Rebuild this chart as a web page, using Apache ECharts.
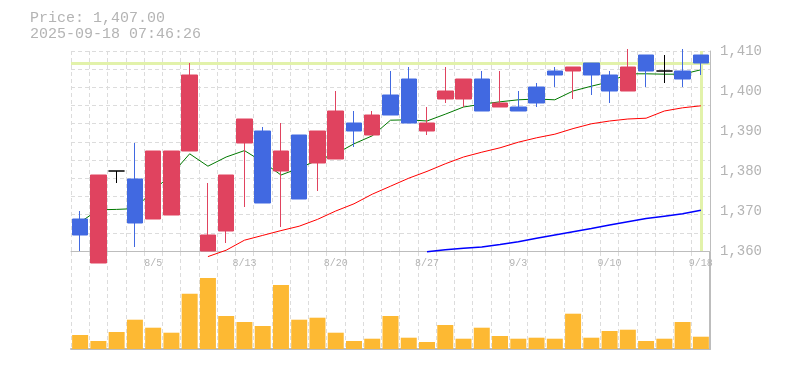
<!DOCTYPE html>
<html>
<head>
<meta charset="utf-8">
<script src="https://cdn.jsdelivr.net/npm/echarts@6/dist/echarts.min.js"></script>
<style>html,body{margin:0;padding:0;background:#fff}#c{width:785px;height:370px}</style>
</head>
<body>
<div id="c"></div>
<script>
const dates = ['7/30','7/31','8/1','8/4','8/5','8/6','8/7','8/8','8/12','8/13','8/14','8/15','8/18','8/19','8/20','8/21','8/22','8/25','8/26','8/27','8/28','8/29','9/1','9/2','9/3','9/4','9/5','9/8','9/9','9/10','9/11','9/12','9/16','9/17','9/18'];
const tickLabels = ['8/5','8/13','8/20','8/27','9/3','9/10','9/18'];
const priceTicks = [1360, 1370, 1380, 1390, 1400, 1410];
const opens  = [1368,1357,1380,1378,1368,1369,1385,1360,1365,1387,1390,1380,1389,1382,1383,1392,1389,1399,1403,1390,1398,1398,1403,1396,1396,1401,1405,1405,1407,1404,1400,1409,1405,1405,1409];
const closes = [1364,1379,1380,1367,1385,1385,1404,1364,1379,1393,1372,1385,1373,1390,1395,1390,1394,1394,1392,1392,1400,1403,1395,1397,1395,1397,1404,1406,1404,1400,1406,1405,1405,1403,1407];
const lows   = [1360,1357,1377,1361,1368,1369,1385,1360,1362,1371,1372,1366,1373,1375,1383,1386,1389,1394,1392,1389,1397,1396,1395,1396,1395,1396,1401,1398,1399,1397,1400,1401,1402,1401,1404];
const highs  = [1370,1379,1380,1387,1385,1385,1407,1377,1379,1393,1391,1392,1389,1390,1400,1395,1395,1405,1406,1396,1406,1403,1405,1405,1400,1402,1406,1406,1407,1405,1410.5,1409,1409,1410.5,1409];
const ma5  = [1367.2,1370.3,1370.4,1370.6,1375.1,1379.1,1384.3,1381.2,1383.5,1385.1,1382.3,1379.0,1380.7,1382.7,1384.3,1386.8,1388.8,1392.7,1392.8,1392.5,1394.2,1396.0,1396.7,1397.3,1397.8,1398.0,1397.8,1400.0,1401.2,1402.3,1404.3,1404.3,1404.2,1404.2,1405.3];
const ma25 = [null,null,null,null,null,null,null,1358.6,1360.2,1362.7,1363.9,1365.1,1366.2,1367.9,1370.0,1371.8,1374.2,1376.2,1378.2,1379.9,1381.8,1383.5,1384.7,1385.8,1387.2,1388.3,1389.2,1390.6,1391.8,1392.5,1393.0,1393.2,1395.0,1395.8,1396.3];
const ma75 = [null,null,null,null,null,null,null,null,null,null,null,null,null,null,null,null,null,null,null,1359.8,1360.3,1360.7,1361.0,1361.6,1362.3,1363.2,1364.0,1364.8,1365.6,1366.5,1367.3,1368.1,1368.7,1369.3,1370.2];
const volumes = [14000,8000,17000,29300,21300,16300,55300,71000,33000,27000,23000,64000,29300,31300,16300,8000,10300,33000,11300,7000,24000,10300,21300,13000,10300,11300,10300,35300,11300,18000,19300,8000,10300,27000,12300];
const lastPrice = 1407;
const titleLines = ['Price: 1,407.00', '2025-09-18 07:46:26'];

const UP = '#e0435f', DOWN = '#4169e1', GRIDC = '#dcdcdc', AXC = '#bdbdbd', TXT = '#b4b4b4';
const FONT = '"Liberation Mono", "DejaVu Sans Mono", monospace';

const candleData = dates.map((d, i) => {
  const item = { value: [opens[i], closes[i], lows[i], highs[i]] };
  if (opens[i] === closes[i]) {
    item.itemStyle = { color: '#000', color0: '#000', borderColor: '#000', borderColor0: '#000' };
  }
  return item;
});
const fmt = v => String(v).replace(/\B(?=(\d{3})+(?!\d))/g, ',');
const dash = { type: [4, 3], color: GRIDC, width: 1 };

const chart = echarts.init(document.getElementById('c'));
chart.setOption({
  animation: false,
  backgroundColor: '#fff',
  title: {
    text: titleLines.join('\n'),
    left: 25, top: 5,
    textStyle: { fontFamily: FONT, fontSize: 15, fontWeight: 'normal', color: TXT, lineHeight: 16 }
  },
  grid: [
    { left: 71, right: 75, top: 51, bottom: 119 },
    { left: 71, right: 75, top: 252, bottom: 21 }
  ],
  xAxis: [
    {
      type: 'category', gridIndex: 0, data: dates, boundaryGap: true,
      axisLine: { onZero: false, lineStyle: { color: AXC, width: 1 } },
      axisTick: { show: false },
      axisLabel: {
        interval: (i, v) => tickLabels.indexOf(v) >= 0,
        color: TXT, fontFamily: FONT, fontSize: 10, margin: 7
      },
      splitLine: { show: true, interval: 0, lineStyle: dash }
    },
    {
      type: 'category', gridIndex: 1, data: dates, boundaryGap: true,
      axisLine: { onZero: false, lineStyle: { color: AXC, width: 2 } },
      axisTick: { show: false },
      axisLabel: { show: false },
      splitLine: { show: true, interval: 0, lineStyle: dash }
    }
  ],
  yAxis: [
    {
      type: 'value', gridIndex: 0, position: 'right',
      min: priceTicks[0], max: priceTicks[priceTicks.length - 1], interval: 10,
      axisLine: { show: true, lineStyle: { color: AXC } },
      axisTick: { show: false },
      splitLine: { show: false },
      axisLabel: { color: TXT, fontFamily: FONT, fontSize: 14, margin: 10, formatter: fmt }
    },
    {
      type: 'value', gridIndex: 0, position: 'left', min: 0, max: 11, interval: 1,
      axisLine: { show: false }, axisTick: { show: false }, axisLabel: { show: false },
      splitLine: { show: true, lineStyle: dash }
    },
    {
      type: 'value', gridIndex: 1, position: 'right', min: 0, max: 97000,
      axisLine: { show: true, lineStyle: { color: AXC, width: 2 } },
      axisTick: { show: false }, axisLabel: { show: false },
      splitLine: { show: false }
    }
  ],
  series: [
    {
      name: 'MA5', type: 'line', xAxisIndex: 0, yAxisIndex: 0, data: ma5,
      symbol: 'none', clip: false, z: 2,
      lineStyle: { color: '#007800', width: 1 },
      markLine: {
        silent: true, symbol: 'none', label: { show: false }, animation: false, z: 1,
        lineStyle: { color: '#e2f2aa', width: 3, type: 'solid' },
        data: [{ yAxis: lastPrice }, { xAxis: dates.length - 1 }]
      }
    },
    {
      name: 'MA25', type: 'line', xAxisIndex: 0, yAxisIndex: 0, data: ma25,
      symbol: 'none', clip: false, z: 2,
      lineStyle: { color: '#ff0000', width: 1 }
    },
    {
      name: 'MA75', type: 'line', xAxisIndex: 0, yAxisIndex: 0, data: ma75,
      symbol: 'none', clip: false, z: 2,
      lineStyle: { color: '#0000ff', width: 1.5 }
    },
    {
      name: 'Price', type: 'candlestick', xAxisIndex: 0, yAxisIndex: 0,
      data: candleData, barWidth: 16, clip: false, z: 4,
      itemStyle: { color: UP, color0: DOWN, borderColor: UP, borderColor0: DOWN, borderWidth: 1 }
    },
    {
      name: 'Volume', type: 'bar', xAxisIndex: 1, yAxisIndex: 2, data: volumes,
      barWidth: 16, itemStyle: { color: '#fdb933' }
    }
  ]
});
</script>
</body>
</html>
